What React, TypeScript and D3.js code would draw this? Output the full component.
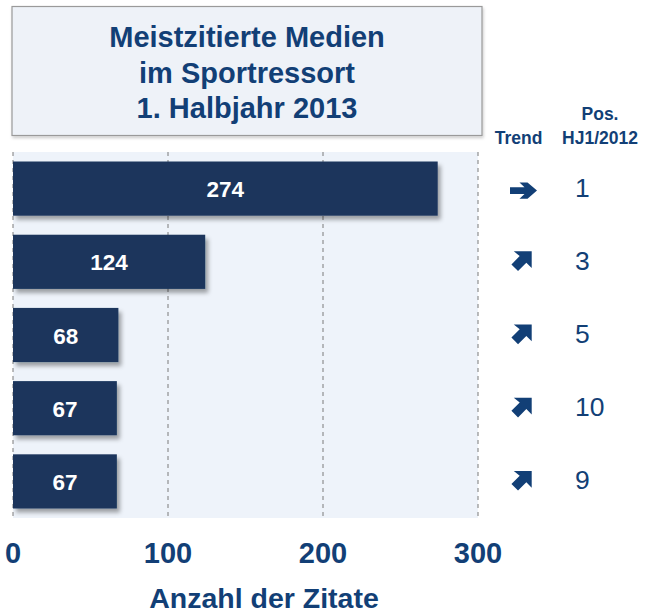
import * as d3 from 'd3';

const media = ['m1', 'm2', 'm3', 'm4', 'm5'];
const values = [274, 124, 68, 67, 67];
const trends = ['right', 'up', 'up', 'up', 'up'];
const prevPos = [1, 3, 5, 10, 9];
const xTicks = [0, 100, 200, 300];
const titleLines = ['Meistzitierte Medien', 'im Sportressort', '1. Halbjahr 2013'];

const NAVY = '#123f76';
const BAR = '#1a365c';
const FONT = 'Liberation Sans';

// arrow glyphs, centred on (0,0)
const ARROW_RIGHT = 'M-13.5,-3.4 L1,-3.4 L-4,-8.2 L4,-8.2 L13.5,0 L4,8.2 L-4,8.2 L1,3.4 L-13.5,3.4 Z';
const ARROW_UP = 'M10,-8.5 L10,6.5 L5.2,1.7 L-2.2,9.1 L-8.1,3.2 L-0.7,-4.2 L-6,-8.5 Z';

export default function App() {
  const W = 648, H = 614;
  const m = { l: 13, r: 170, t: 152, b: 96 };
  const x = d3.scaleLinear().domain([0, 300]).range([m.l, W - m.r]);
  const y = d3.scaleBand<string>().domain(media).range([m.t, H - m.b]).paddingInner(0.26).paddingOuter(0.13);
  const bw = y.bandwidth();
  const trendX = 521, posX = 575;

  return (
    <svg width={W} height={H} style={{ position: 'absolute', left: 0, top: 0, fontFamily: FONT }}>
      <defs>
        <filter id="barShadow" x="-10%" y="-20%" width="130%" height="160%">
          <feDropShadow dx="3" dy="4" stdDeviation="2" floodColor="#000" floodOpacity="0.35" />
        </filter>
        <filter id="boxShadow" x="-5%" y="-5%" width="110%" height="115%">
          <feDropShadow dx="1" dy="2" stdDeviation="1.5" floodColor="#000" floodOpacity="0.2" />
        </filter>
      </defs>

      {/* title box */}
      <rect x={12} y={6.5} width={470} height={129} fill="#eef2f8" stroke="#9a9a9a" strokeWidth={1.2} filter="url(#boxShadow)" />
      {titleLines.map((t, i) => (
        <text key={t} x={247} y={47 + i * 35.7} textAnchor="middle" fill={NAVY} fontSize={29} fontWeight="bold">{t}</text>
      ))}

      {/* headers */}
      <text x={600} y={120} textAnchor="middle" fill={NAVY} fontSize={17.5} fontWeight="bold">Pos.</text>
      <text x={600} y={144} textAnchor="middle" fill={NAVY} fontSize={17.5} fontWeight="bold">HJ1/2012</text>
      <text x={518.5} y={144} textAnchor="middle" fill={NAVY} fontSize={17.5} fontWeight="bold">Trend</text>

      {/* plot background + dashed grid */}
      <rect x={x(0)} y={m.t} width={x(300) - x(0)} height={H - m.b - m.t} fill="#eef3fa" />
      {xTicks.map(t => (
        <line key={t} x1={x(t)} x2={x(t)} y1={m.t} y2={H - m.b} stroke="#7a7a7a" strokeWidth={1} strokeDasharray="4,4" />
      ))}

      {/* bars */}
      {media.map((d, i) => {
        const y0 = y(d)!;
        const cy = y0 + bw / 2;
        return (
          <g key={d}>
            <rect x={x(0)} y={y0} width={x(values[i]) - x(0)} height={bw} fill={BAR} filter="url(#barShadow)" />
            <text x={(x(0) + x(values[i])) / 2} y={cy} dy="0.38em" textAnchor="middle" fill="#fff" fontSize={22.5} fontWeight="bold">{values[i]}</text>
            {trends[i] === 'right'
              ? <path transform={`translate(${trendX + 2.5},${cy + 2})`} fill={NAVY} d={ARROW_RIGHT} />
              : <path transform={`translate(${trendX - 0.5},${cy - 1}) scale(1.12)`} fill={NAVY} d={ARROW_UP} />}
            <text x={posX} y={cy} dy="0.3em" fill={NAVY} fontSize={26.5}>{prevPos[i]}</text>
          </g>
        );
      })}

      {/* x axis labels */}
      {xTicks.map(t => (
        <text key={t} x={x(t)} y={563} textAnchor="middle" fill={NAVY} fontSize={29} fontWeight="bold">{t}</text>
      ))}
      <text x={264} y={608} textAnchor="middle" fill={NAVY} fontSize={28.5} fontWeight="bold">Anzahl der Zitate</text>
    </svg>
  );
}
